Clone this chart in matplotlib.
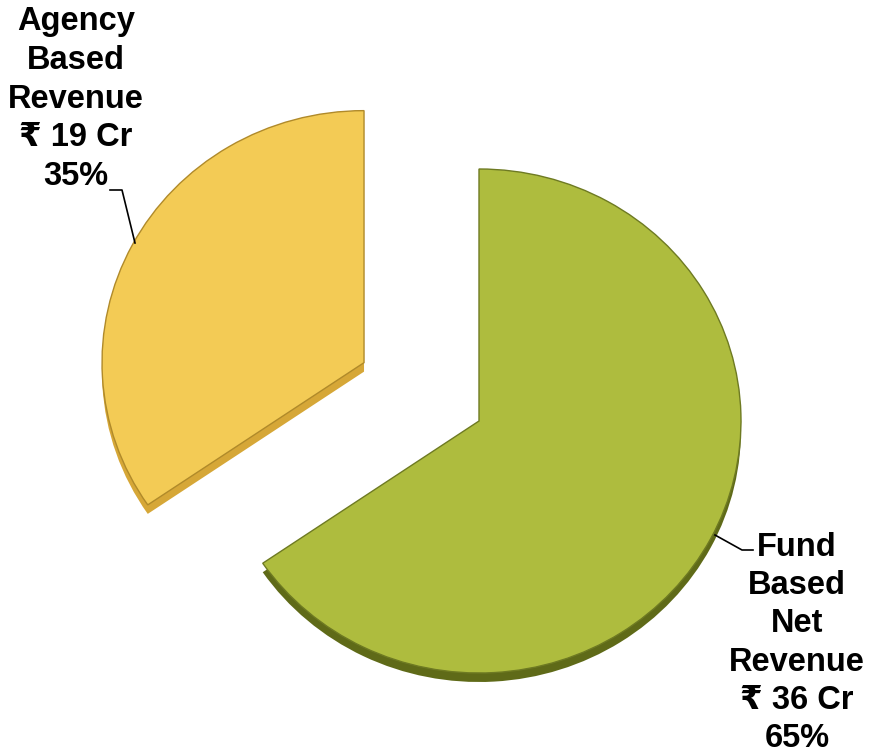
import matplotlib
matplotlib.use("Agg")
import matplotlib.pyplot as plt

# Revenue split (Rs crore)
segments = ["Fund Based Net Revenue", "Agency Based Revenue"]
amounts_cr = [36, 19]
face_colors = ["#AEBC3E", "#F3CB55"]
side_colors = ["#5F6A18", "#D6A737"]
edge_colors = ["#6E7A22", "#B08A2A"]

W, H = 872, 755
RX, RY = 262, 252          # slight tilt: pie squashed vertically
SY = RY / RX               # vertical pixels per data unit
CX, CY = 479, 421          # pie centre in pixels
EXPLODE = [0, 130]
DEPTH = 9

FONT = ["Liberation Sans", "DejaVu Sans"]


def yd(y_px):
    """pixel row (from top) -> data y"""
    return (H - y_px) / SY


def label_text(name, amount, total):
    head = "\n".join(name.split())
    pct = round(amount / total * 100)
    return f"{head}\n\u20b9 {amount} Cr\n{pct:.0f}%"


def main():
    fig = plt.figure(figsize=(W / 100, H / 100), dpi=100)
    ax = fig.add_axes([0, 0, 1, 1])

    # side walls: same pie pushed down a few pixels, drawn underneath
    ax.pie(amounts_cr, colors=side_colors, startangle=90, counterclock=False,
           radius=RX, center=(CX, yd(CY + DEPTH)),
           explode=EXPLODE, wedgeprops=dict(linewidth=0))
    # top faces
    ax.pie(amounts_cr, colors=face_colors, startangle=90, counterclock=False,
           radius=RX, center=(CX, yd(CY)), explode=EXPLODE,
           wedgeprops=dict(linewidth=1.0))
    for w, ec in zip(ax.patches[len(amounts_cr):], edge_colors):
        w.set_edgecolor(ec)

    total = sum(amounts_cr)
    fund_txt = label_text(segments[0], amounts_cr[0], total)
    agency_txt = label_text(segments[1], amounts_cr[1], total)

    ax.text(76, yd(99), agency_txt, ha="center", va="center", fontsize=23.5,
            fontweight="bold", family=FONT, linespacing=1.33)
    ax.text(797, yd(643), fund_txt, ha="center", va="center", fontsize=23.5,
            fontweight="bold", family=FONT, linespacing=1.30)

    # leader lines
    ax.plot([110, 122, 135], [yd(190), yd(190), yd(243)], color="black", lw=1.2)
    ax.plot([715, 742, 753], [yd(535), yd(550), yd(550)], color="black", lw=1.2)

    ax.set_xlim(0, W)
    ax.set_ylim(0, H / SY)
    ax.set_aspect("auto")
    ax.set_axis_off()
    fig.savefig("out.png", dpi=100, facecolor="white")
    plt.close(fig)


if __name__ == "__main__":
    main()
